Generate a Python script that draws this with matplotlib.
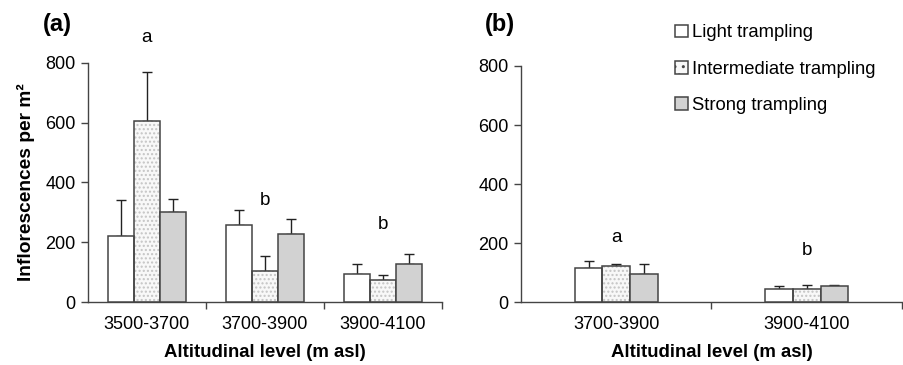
import numpy as np
import matplotlib
matplotlib.use("Agg")
import matplotlib.pyplot as plt
from matplotlib.patches import Patch

plt.rcParams['font.family'] = ['Liberation Sans', 'DejaVu Sans']
plt.rcParams['hatch.linewidth'] = 1.0

# panel (a) data
levels_a = ['3500-3700', '3700-3900', '3900-4100']
light_a = [220, 257, 95]
light_a_err = [120, 52, 32]
inter_a = [605, 105, 75]
inter_a_err = [165, 48, 16]
strong_a = [300, 226, 127]
strong_a_err = [46, 53, 32]
letters_a = ['a', 'b', 'b']
letters_a_y = [885, 340, 258]

# panel (b) data
levels_b = ['3700-3900', '3900-4100']
light_b = [115, 46]
light_b_err = [25, 10]
inter_b = [124, 46]
inter_b_err = [6, 14]
strong_b = [95, 56]
strong_b_err = [35, 4]
letters_b = ['a', 'b']
letters_b_y = [220, 174]

names = ['Light trampling', 'Intermediate trampling', 'Strong trampling']

EDGE = '#444444'
GREY = '#d2d2d2'
DOT = '#c4c4c4'

fig = plt.figure(figsize=(9.04, 3.65), dpi=100)
ax_a = fig.add_axes([0.0973, 0.1726, 0.3916, 0.6548])
ax_b = fig.add_axes([0.5763, 0.1718, 0.4215, 0.6474])


def draw(ax, levels, light, le, inter, ie, strong, se, letters, lett_y, w):
    x = np.arange(len(levels))
    series = [(light, le, 'white', None), (inter, ie, '#f8f8f8', '....'),
              (strong, se, GREY, None)]
    for i, (vals, err, fc, hatch) in enumerate(series):
        pos = x + (i - 1) * w
        if hatch:
            ax.bar(pos, vals, w, color=fc, edgecolor=DOT, hatch=hatch,
                   linewidth=0, zorder=2)
            ax.bar(pos, vals, w, fill=False, edgecolor=EDGE, linewidth=1.1,
                   zorder=3)
        else:
            ax.bar(pos, vals, w, color=fc, edgecolor=EDGE, linewidth=1.1,
                   zorder=3)
        ax.errorbar(pos, vals, yerr=[np.zeros(len(vals)), err], fmt='none',
                    ecolor='#222222', elinewidth=1.0, capsize=3.8,
                    capthick=1.0, zorder=1)
    for xi, t, yy in zip(x, letters, lett_y):
        ax.text(xi, yy, t, ha='center', va='center', fontsize=13.5)
    ax.set_xlim(-0.5, len(levels) - 0.5)
    ax.set_ylim(0, 800)
    ax.set_yticks([0, 200, 400, 600, 800])
    ax.set_xticks(x)
    ax.set_xticklabels(levels)
    ax.set_xticks(np.arange(len(levels)) + 0.5, minor=True)
    ax.tick_params(axis='x', which='major', length=0, pad=10, labelsize=13)
    ax.tick_params(axis='x', which='minor', length=5, width=1, color=EDGE)
    ax.tick_params(axis='y', length=5, width=1, color=EDGE, labelsize=13,
                   pad=4)
    for s in ['top', 'right']:
        ax.spines[s].set_visible(False)
    for s in ['left', 'bottom']:
        ax.spines[s].set_color(EDGE)
        ax.spines[s].set_linewidth(1.0)
    ax.set_xlabel('Altitudinal level (m asl)', fontsize=13.4,
                  fontweight='bold', labelpad=8)


draw(ax_a, levels_a, light_a, light_a_err, inter_a, inter_a_err,
     strong_a, strong_a_err, letters_a, letters_a_y, 0.222)
draw(ax_b, levels_b, light_b, light_b_err, inter_b, inter_b_err,
     strong_b, strong_b_err, letters_b, letters_b_y, 0.145)

ax_a.set_ylabel('Inflorescences per m²', fontsize=13.8, fontweight='bold',
                labelpad=7)

fig.text(0.063, 0.934, '(a)', fontsize=17, fontweight='bold', ha='center',
         va='center')
fig.text(0.553, 0.934, '(b)', fontsize=17, fontweight='bold', ha='center',
         va='center')

handles = [Patch(facecolor='white', edgecolor=EDGE, linewidth=1.1),
           Patch(facecolor='#f8f8f8', edgecolor=EDGE, hatch='..',
                 linewidth=1.1),
           Patch(facecolor=GREY, edgecolor=EDGE, linewidth=1.1)]
fig.legend(handles, names, loc='upper left', bbox_to_anchor=(0.7467, 0.933),
           frameon=False, fontsize=13.3, handlelength=0.7, handleheight=0.7,
           handletextpad=0.2, labelspacing=1.05, borderaxespad=0, borderpad=0)

fig.savefig('out.png', dpi=100)
